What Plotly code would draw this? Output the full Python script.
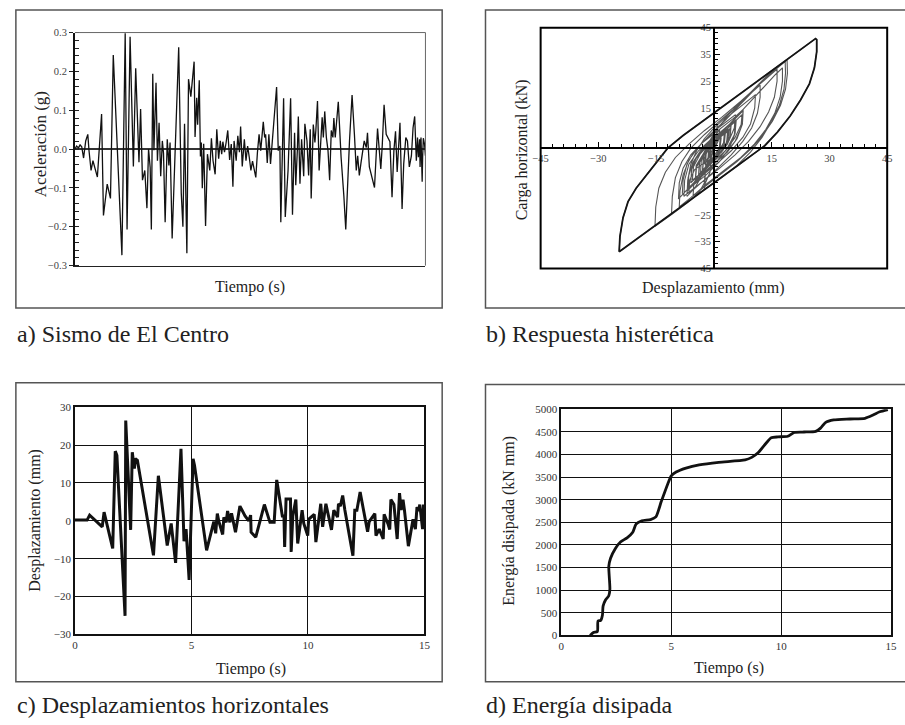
import plotly.graph_objects as go

# ---------------- a) El Centro ground acceleration ----------------
accel_time_s = [
    0.00, 0.07, 0.15, 0.22, 0.29, 0.37, 0.46, 0.55, 0.60, 0.69,
    0.77, 0.86, 0.96, 1.14, 1.22, 1.38, 1.52, 1.64, 2.01, 2.15,
    2.23, 2.36, 2.50, 2.60, 2.74, 2.81, 2.89, 2.99, 3.08, 3.15,
    3.22, 3.27, 3.33, 3.38, 3.47, 3.53, 3.60, 3.67, 3.74, 3.79,
    3.86, 3.95, 4.02, 4.07, 4.16, 4.44, 4.55, 4.62, 4.69, 4.79,
    4.86, 4.96, 5.10, 5.14, 5.21, 5.25, 5.32, 5.37, 5.41, 5.45,
    5.51, 5.59, 5.67, 5.77, 5.84, 5.91, 6.00, 6.07, 6.15, 6.22,
    6.28, 6.33, 6.40, 6.47, 6.54, 6.62, 6.69, 6.76, 6.81, 6.90,
    6.97, 7.04, 7.09, 7.16, 7.25, 7.32, 7.39, 7.46, 7.53, 7.60,
    7.67, 7.74, 7.81, 7.88, 7.95, 8.02, 8.06, 8.12, 8.16, 8.23,
    8.30, 8.37, 8.44, 8.53, 8.63, 8.70, 8.77, 8.81, 8.93, 9.00,
    9.12, 9.23, 9.31, 9.40, 9.45, 9.52, 9.56, 9.63, 9.70, 9.79,
    9.84, 9.93, 10.00, 10.07, 10.11, 10.20, 10.27, 10.31, 10.38, 10.45,
    10.52, 10.58, 10.63, 10.69, 10.76, 10.83, 10.90, 10.97, 11.04, 11.08,
    11.14, 11.20, 11.27, 11.32, 11.39, 11.51, 11.59, 11.75, 11.86, 11.96,
    12.04, 12.10, 12.17, 12.24, 12.31, 12.38, 12.47, 12.52, 12.60, 12.70,
    12.82, 12.95, 13.02, 13.09, 13.15, 13.23, 13.32, 13.40, 13.48, 13.57,
    13.65, 13.72, 13.79, 13.91, 14.00, 14.07, 14.16, 14.23, 14.31, 14.40,
    14.47, 14.54, 14.61, 14.66, 14.70, 14.75, 14.77, 14.81, 14.86, 14.88,
    14.91, 14.96, 15.00,
]
accel_g = [
    0.0, 0.008, 0.003, 0.011, 0.006, -0.023, 0.021, 0.038, -0.003, -0.055,
    -0.030, -0.051, -0.072, 0.090, -0.171, -0.090, -0.127, 0.242, -0.273, 0.298,
    -0.207, 0.289, -0.045, 0.208, -0.034, 0.103, -0.080, -0.055, -0.152, 0.0,
    -0.048, -0.207, 0.194, -0.003, 0.171, -0.030, 0.068, -0.070, 0.021, -0.011,
    -0.188, 0.025, -0.042, 0.017, -0.230, 0.262, -0.114, -0.200, 0.065, -0.268,
    0.180, 0.135, 0.225, 0.031, 0.132, 0.063, 0.177, -0.019, 0.017, -0.101,
    0.014, -0.198, -0.013, -0.055, 0.028, -0.030, -0.065, 0.051, -0.025, 0.021,
    -0.013, 0.019, -0.008, 0.017, 0.048, -0.028, 0.013, -0.097, 0.021, -0.030,
    0.034, -0.008, 0.058, -0.045, 0.025, -0.030, 0.008, -0.021, -0.055, -0.031,
    -0.055, -0.073, -0.008, 0.038, -0.004, 0.048, 0.070, 0.030, 0.038, -0.036,
    0.038, -0.038, 0.021, 0.089, 0.160, -0.004, 0.008, -0.188, 0.131, -0.175,
    -0.055, 0.131, -0.169, 0.042, -0.093, 0.0, 0.084, -0.089, 0.025, -0.070,
    0.065, 0.021, -0.068, 0.051, -0.127, 0.063, 0.017, 0.048, 0.124, -0.055,
    0.030, 0.082, 0.030, 0.097, 0.030, -0.004, -0.080, 0.048, 0.030, 0.080,
    0.030, 0.076, 0.122, 0.063, -0.021, -0.122, -0.207, 0.021, 0.139, 0.038,
    -0.055, -0.017, -0.068, -0.036, 0.0, 0.021, 0.004, 0.042, -0.046, -0.072,
    -0.099, 0.053, -0.004, -0.051, 0.008, 0.114, 0.038, 0.030, 0.019, -0.124,
    -0.004, 0.046, -0.059, 0.068, -0.154, -0.038, 0.030, 0.021, -0.046, -0.017,
    0.055, 0.084, -0.030, 0.030, -0.021, 0.025, -0.046, 0.030, -0.084, -0.021,
    0.028, 0.013, -0.017,
]
assert len(accel_time_s) == len(accel_g)
accel_ticks = [-0.3, -0.2, -0.1, 0.0, 0.1, 0.2, 0.3]

# ---------------- b) hysteretic response (displacement mm, force kN) ----------------
hyst_path = [
    (0, 0), (1, 4), (-1, -5), (-3, -10), (-5, -15), (-7, -18),
    (-6.8, -12), (-6, -6), (-4.5, -1), (-2.5, 3.5), (0, 7.5), (3, 11.5), (6, 15.5), (10, 21.5), (14, 27.3), (18.5, 32.5),
    (18.6, 28), (18.2, 22), (17, 16), (15, 10), (12.5, 4), (9.5, -1.5), (6, -6.5), (2, -11), (-3, -16), (-8, -21.4),
    (-14, -27.7), (-20, -34), (-24.6, -38.7),
    (-24.4, -33), (-23.6, -26), (-22.3, -20), (-20.2, -15), (-17.5, -10), (-14.5, -4.5), (-12, 0), (-8, 4.7), (0, 13.1),
    (10, 23.6), (20, 34.1), (25.5, 39.9), (26.4, 40.9),
    (26.7, 40.5), (26.7, 36), (26.1, 30), (24.8, 24), (22.5, 18), (19.8, 12), (16.5, 6), (13.2, 0.9), (6, -6.7), (0, -13), (-2.4, -15.5),
    (-2.2, -8), (-1, -1), (1.5, 5), (5, 10.5), (9, 16.5), (13, 23), (16, 27.5), (17.8, 30),
    (17.8, 25), (17.2, 19), (15.8, 13), (13.5, 7), (10.5, 1.5), (7, -3.5), (3, -8), (-2, -13.5), (-6, -18.5), (-9, -22),
    (-8.8, -16), (-8, -10), (-6.5, -4.5), (-4, 0.5), (-1, 5), (3, 10.5), (7, 16.5), (10, 21), (12, 23.5),
    (12, 19), (11.3, 13), (9.8, 7.5), (7.5, 2.5), (4.5, -2.5), (1, -7.5), (-3, -12.5), (-6.5, -17),
    (-6.3, -12), (-5, -8), (-3, -6), (-0.7, -4),
    (-1, -9), (-2.5, -14), (-5, -18), (-8, -21.5), (-11, -24.5),
    (-10.8, -18), (-10, -11), (-8.3, -5), (-6, 0), (-2.5, 5), (1, 9.5), (5, 14.5), (10, 21.5), (14.5, 27.5), (19, 33),
    (19.1, 28), (18.6, 22), (17.3, 16), (15.2, 10), (12.5, 4.5), (9.5, -0.5), (6, -5), (2, -9.5), (-2, -14), (-5.4, -17.8),
    (-5.2, -13), (-4, -10), (-2.2, -8.5),
    (-2.5, -13), (-4, -17), (-7, -20.5), (-11, -24.8), (-15.3, -29.2),
    (-15.1, -22), (-14.3, -15), (-12.6, -9), (-10, -3.5), (-6.5, 1.5), (-2.5, 6.5), (2, 11.5), (7, 17.5), (12, 24), (16.4, 29.5),
    (16.4, 25), (15.7, 19), (14.2, 13.5), (12, 8), (9, 2.5), (5.5, -2.5), (1.5, -7.5), (-3, -12.5), (-7.8, -18),
    (-7.6, -12), (-6.5, -6), (-4, -1), (-1, 3), (2, 5.5), (4, 7),
    (3.2, 2), (1, -3), (-1.5, -7), (-3.5, -10),
    (-3.3, -5), (-2, 0), (0, 4), (1.5, 7),
    (1.2, 3), (0, -1), (-1.5, -4),
    (-1.2, 1), (0, 5), (1, 8.5),
    (0.7, 4), (-0.5, -1), (-2.5, -6),
    (-2.2, -1), (-0.5, 4), (0.8, 7),
    (0.5, 2), (-1, -4), (-3, -9),
    (-2.7, -3), (-1, 3), (1, 7.5),
    (3, 11), (6, 14.5), (8.5, 17.5), (10.8, 20),
    (10.6, 15), (9.5, 9), (7.5, 4), (4.5, -1), (1, -5.5), (-2, -9), (-6.9, -16),
    (-6.7, -11), (-5.5, -5.5), (-3.5, -1), (-0.5, 3.5), (3, 7.5), (5.8, 10.5),
    (5.5, 5.5), (4, 0), (1.5, -5), (-2, -10), (-5.5, -14), (-8.2, -17),
    (-8, -12), (-7, -6), (-5, -1), (-2, 3.5), (1.5, 8), (5.6, 12.5),
    (5.3, 7.5), (3.5, 1.5), (0.5, -4), (-3, -9), (-6, -13),
    (-5.8, -8), (-4.5, -3.5), (-2, 1), (1.5, 5.5), (2.8, 7),
    (2.5, 2), (0.5, -3), (-2, -7), (-3.9, -10),
    (-3.7, -5), (-2, 0), (0.5, 4.5), (4.5, 9.5),
    (4.2, 4.5), (2.5, -0.5), (0, -4.5), (-3, -9), (-5.6, -12),
    (-5.3, -7), (-3.5, -2), (-0.5, 3), (3, 7.5), (4.5, 9),
    (4.2, 4), (2.3, -1), (-0.5, -5), (-4, -10.5),
    (-3.8, -5.5), (-1.5, 0), (1.5, 5), (4.5, 9.5), (7.6, 14),
    (7.4, 9), (6, 3.5), (3.5, -1.5), (0, -6), (-4, -11), (-9.2, -19),
    (-9, -13), (-8, -7.5), (-6, -2.5), (-3, 2), (1, 6.5), (5, 11), (7.6, 14.5),
    (7.3, 9.5), (5.5, 4), (3, -1), (-0.5, -5.5), (-2.9, -8.5),
    (-2.7, -4), (-1, 0.5), (1.9, 4),
    (1.6, 0), (0, -4), (-3.9, -10),
    (-3.7, -5), (-2, -0.5), (1.7, 4.5),
    (1.4, 0), (-1, -5), (-4.8, -11.5),
    (-4.6, -6.5), (-2.5, -1.5), (0.5, 3.5), (3.5, 7.5), (5.6, 10),
    (5.3, 5), (3.5, 0), (1, -4.5), (-2.5, -9), (-4.8, -12),
    (-4.5, -7), (-2.5, -2), (0.5, 3), (4, 8), (7.3, 12.5),
    (7, 7.5), (5.5, 2.5), (3, -2), (0, -6), (-3, -10), (-6.7, -15),
    (-6.5, -9.5), (-5, -4.5), (-2.5, -0.5), (0.5, 3.5), (3, 6),
    (2.7, 1.5), (0.5, -3), (-2.2, -6.5),
    (-2, -2), (0, 2.5), (3.6, 7),
    (3.3, 2), (1, -3), (-1.6, -5.5),
    (-1.4, -1), (0.5, 2.5), (4.3, 7.5),
    (4, 3), (2, -1.5), (-1, -5),
    (-0.8, 0), (1, 3.5), (3.9, 6.5),
    (3.6, 2), (1, -2.5), (-1.6, -5),
]
hyst_envelope = [
    (-24.6, -38.7), (-24.4, -33), (-23.6, -26), (-22.3, -20), (-20.2, -15), (-17.5, -10), (-14.5, -4.5), (-12, 0),
    (-8, 4.7), (0, 13.1), (10, 23.6), (20, 34.1), (25.5, 39.9), (26.4, 40.9), (26.7, 40.5), (26.7, 36), (26.1, 30),
    (24.8, 24), (22.5, 18), (19.8, 12), (16.5, 6), (13.2, 0.9), (6, -6.7), (0, -13), (-8, -21.4), (-14, -27.7),
    (-20, -34), (-24.6, -38.7),
]
hyst_xticks = [-45, -30, -15, 15, 30, 45]
hyst_yticks = [45, 35, 25, 15, -25, -35, -45]

# ---------------- c) horizontal displacement (s, mm) ----------------
disp_record = [
    (0.00, 0.2), (0.52, 0.2), (0.63, 1.5), (1.17, -1.6), (1.25, 2.3), (1.62, -7.3), (1.73, 18.4), (1.80, 17.3),
    (2.15, -25.1), (2.18, 26.5), (2.39, -2.4), (2.46, 18.1), (2.55, 13.8), (2.59, 16.4), (2.68, 16.0), (3.37, -9.1),
    (3.58, 11.9), (3.96, -6.5), (4.13, -0.7), (4.32, -11.1), (4.55, 19.0), (4.68, -5.4), (4.77, -2.2), (4.90, -15.6),
    (5.07, 16.4), (5.13, 14.7), (5.65, -7.8), (5.96, -0.2), (6.04, -3.3), (6.11, 1.9), (6.17, 0.0), (6.34, -3.6),
    (6.39, 0.9), (6.49, -0.4), (6.55, 2.6), (6.65, -0.4), (6.72, 2.0), (6.77, 0.7), (6.89, -3.0), (7.08, 3.9),
    (7.30, 1.3), (7.46, 0.0), (7.54, 1.5), (7.56, -3.0), (7.76, -4.3), (8.13, 4.3), (8.37, -0.4), (8.55, -0.4),
    (8.66, 10.8), (8.90, 1.3), (8.97, 1.3), (9.00, -6.9), (9.06, 5.8), (9.25, 5.8), (9.28, -8.2), (9.35, 1.3),
    (9.48, 5.6), (9.56, -6.0), (9.75, 2.8), (9.82, -0.7), (9.99, -3.9), (10.03, 0.4), (10.27, 1.7), (10.34, -5.6),
    (10.55, 4.5), (10.63, -1.6), (10.77, 4.5), (11.01, -2.4), (11.11, 2.8), (11.27, 1.0), (11.31, 4.5), (11.39, 3.9),
    (11.49, 6.7), (11.58, 3.0), (11.93, -9.2), (12.01, 2.8), (12.10, 2.8), (12.24, 7.6), (12.56, -2.9), (12.63, -0.2),
    (12.87, 1.9), (12.92, -3.9), (13.06, -2.2), (13.23, -4.8), (13.27, 1.7), (13.44, -0.9), (13.51, -2.3), (13.56, 5.6),
    (13.69, 4.3), (13.83, -4.8), (13.93, 7.3), (14.00, 2.9), (14.08, 5.6), (14.14, 2.9), (14.31, -6.7), (14.51, 0.4),
    (14.61, -2.2), (14.68, 3.6), (14.75, 2.6), (14.80, 4.3), (14.92, -2.2), (14.96, 4.3), (14.98, -1.6), (15.00, 3.9),
]

# ---------------- d) dissipated energy (s, kN mm) ----------------
energy_record = [
    (1.31, 0), (1.46, 65), (1.64, 86), (1.67, 317), (1.79, 331), (1.87, 446), (1.90, 647), (2.01, 784),
    (2.16, 878), (2.21, 1022), (2.18, 1309), (2.16, 1525), (2.24, 1705), (2.46, 1921), (2.69, 2065), (2.99, 2158),
    (3.25, 2281), (3.40, 2460), (3.66, 2532), (4.06, 2561), (4.30, 2619), (4.55, 2964), (4.85, 3360), (5.00, 3525),
    (5.22, 3611), (5.67, 3698), (6.27, 3770), (7.16, 3827), (8.36, 3878), (8.66, 3935), (8.96, 4043), (9.33, 4259),
    (9.55, 4367), (9.85, 4388), (10.30, 4403), (10.60, 4489), (11.04, 4496), (11.57, 4511), (11.79, 4583),
    (12.01, 4705), (12.39, 4763), (13.13, 4784), (13.81, 4799), (14.18, 4871), (14.48, 4943), (14.85, 4993),
]

FONT = "Liberation Serif, Times New Roman, Times, serif"
TXT = "#222222"

hx, hy = zip(*hyst_path)
ex, ey = zip(*hyst_envelope)
dt, dv = zip(*disp_record)
et, ev = zip(*energy_record)

fig = go.Figure()
fig.add_trace(go.Scatter(x=accel_time_s, y=accel_g, xaxis="x", yaxis="y", mode="lines",
                         line=dict(color="#111111", width=1.3), showlegend=False, hoverinfo="skip"))
fig.add_trace(go.Scatter(x=hx, y=hy, xaxis="x2", yaxis="y2", mode="lines",
                         line=dict(color="#555555", width=1.1), showlegend=False, hoverinfo="skip"))
fig.add_trace(go.Scatter(x=ex, y=ey, xaxis="x2", yaxis="y2", mode="lines",
                         line=dict(color="#151515", width=1.8), showlegend=False, hoverinfo="skip"))
fig.add_trace(go.Scatter(x=dt, y=dv, xaxis="x3", yaxis="y3", mode="lines",
                         line=dict(color="#111111", width=3), showlegend=False, hoverinfo="skip"))
fig.add_trace(go.Scatter(x=et, y=ev, xaxis="x4", yaxis="y4", mode="lines",
                         line=dict(color="#111111", width=2.8, shape="spline", smoothing=0.6),
                         showlegend=False, hoverinfo="skip"))

tickfont_small = dict(family=FONT, size=10.5, color="#444444")
tickfont_grid = dict(family=FONT, size=11, color="#333333")

fig.update_layout(
    width=905, height=725,
    margin=dict(l=0, r=0, t=0, b=0),
    paper_bgcolor="white", plot_bgcolor="white",
    font=dict(family=FONT, color=TXT),
    showlegend=False,
    # panel a
    xaxis=dict(domain=[0.07514, 0.46851], anchor="y", range=[0, 15], showticklabels=False, ticks="",
               showgrid=False, zeroline=False, showline=True, linecolor="#222222", linewidth=1.3),
    yaxis=dict(domain=[0.63586, 0.96276], anchor="x", range=[-0.3, 0.3], tickvals=accel_ticks,
               tickformat=".1f", ticks="outside", ticklen=4, tickcolor="#222222", tickwidth=1,
               showline=True, linecolor="#111111", linewidth=1.8, showgrid=False,
               zeroline=True, zerolinecolor="#333333", zerolinewidth=1.6,
               minor=dict(dtick=0.02, tick0=-0.3, ticks="inside", ticklen=4, tickcolor="#222222",
                          tickwidth=1, showgrid=False),
               tickfont=tickfont_small),
    # panel b
    xaxis2=dict(domain=[0.59779, 0.98674], anchor="free", position=0.80069, range=[-45, 45],
                tickvals=hyst_xticks, ticks="inside", ticklen=5, tickcolor="black", tickwidth=1.2,
                showline=True, linecolor="black", linewidth=1.6, showgrid=False, zeroline=False,
                minor=dict(dtick=3, tick0=-45, ticks="inside", ticklen=3, tickcolor="black",
                           tickwidth=1, showgrid=False),
                tickfont=tickfont_small),
    yaxis2=dict(domain=[0.63172, 0.96966], anchor="free", position=0.79227, range=[-45, 45],
                tickvals=hyst_yticks, ticks="inside", ticklen=5, tickcolor="black", tickwidth=1.2,
                showline=True, linecolor="black", linewidth=1.6, showgrid=False, zeroline=False,
                minor=dict(dtick=2, tick0=-45, ticks="inside", ticklen=3, tickcolor="black",
                           tickwidth=1, showgrid=False),
                tickfont=tickfont_small),
    # panel c
    xaxis3=dict(domain=[0.07514, 0.46740], anchor="y3", range=[0, 15], tick0=0, dtick=5, ticks="",
                showgrid=True, gridcolor="#111111", gridwidth=1, zeroline=False,
                showline=True, mirror=True, linecolor="#111111", linewidth=1.5, tickfont=tickfont_grid),
    yaxis3=dict(domain=[0.11862, 0.43724], anchor="x3", range=[-30, 30], tick0=0, dtick=10, ticks="",
                showgrid=True, gridcolor="#111111", gridwidth=1, zeroline=False,
                showline=True, mirror=True, linecolor="#111111", linewidth=1.5, tickfont=tickfont_grid),
    # panel d
    xaxis4=dict(domain=[0.62099, 0.99116], anchor="y4", range=[0, 15], tick0=0, dtick=5, ticks="",
                showgrid=True, gridcolor="#111111", gridwidth=1, zeroline=False,
                showline=True, mirror=True, linecolor="#111111", linewidth=1.5, tickfont=tickfont_grid),
    yaxis4=dict(domain=[0.11724, 0.43448], anchor="x4", range=[0, 5000], tick0=0, dtick=500, ticks="",
                showgrid=True, gridcolor="#111111", gridwidth=1, zeroline=False,
                showline=True, mirror=True, linecolor="#111111", linewidth=1.5, tickfont=tickfont_grid),
)

# frames
shapes = [
    dict(type="rect", xref="paper", yref="paper", x0=0.00884, x1=0.48729, y0=0.57655, y1=0.99448,
         line=dict(color="#555555", width=1.5)),
    dict(type="rect", xref="paper", yref="paper", x0=0.53591, x1=1.02, y0=0.57655, y1=0.99448,
         line=dict(color="#555555", width=1.5)),
    dict(type="rect", xref="paper", yref="paper", x0=0.00884, x1=0.48729, y0=0.05241, y1=0.47172,
         line=dict(color="#555555", width=1.5)),
    dict(type="rect", xref="paper", yref="paper", x0=0.53591, x1=1.02, y0=0.05241, y1=0.46897,
         line=dict(color="#555555", width=1.5)),
    dict(type="line", xref="x domain", yref="y domain", x0=0, x1=1, y0=1, y1=1,
         line=dict(color="#666666", width=1)),
    dict(type="line", xref="x domain", yref="y domain", x0=1, x1=1, y0=0, y1=1,
         line=dict(color="#666666", width=1)),
    dict(type="rect", xref="x2 domain", yref="y2 domain", x0=0, x1=1, y0=0, y1=1,
         line=dict(color="black", width=2)),
]
fig.update_layout(shapes=shapes)

def ann(text, x, y, size, angle=0, xanchor="center"):
    return dict(text=text, x=x, y=y, xref="paper", yref="paper", showarrow=False,
                xanchor=xanchor, yanchor="middle", textangle=angle, borderpad=0,
                font=dict(family=FONT, size=size, color=TXT))

annotations = [
    ann("Aceleración (g)", 0.03646, 0.80690, 17, -90),
    ann("Tiempo (s)", 0.27182, 0.60552, 16),
    ann("Carga horizontal (kN)", 0.57680, 0.79890, 16, -90),
    ann("Desplazamiento (mm)", 0.79227, 0.60414, 16),
    ann("Desplazamiento (mm)", 0.03094, 0.27890, 16, -90),
    ann("Tiempo (s)", 0.27293, 0.07034, 16),
    ann("Energía disipada (kN mm)", 0.56133, 0.27821, 16, -90),
    ann("Tiempo (s)", 0.80884, 0.07172, 16),
    ann("a) Sismo de El Centro", 0.00884, 1 - 334 / 725, 24, xanchor="left"),
    ann("b) Respuesta histerética", 0.53591, 1 - 334 / 725, 24, xanchor="left"),
    ann("c) Desplazamientos horizontales", 0.00884, 1 - 711 / 725, 24, xanchor="left"),
    ann("d) Energía disipada", 0.53591, 1 - 711 / 725, 24, xanchor="left"),
]
fig.update_layout(annotations=annotations)

fig.write_html("out.html")
